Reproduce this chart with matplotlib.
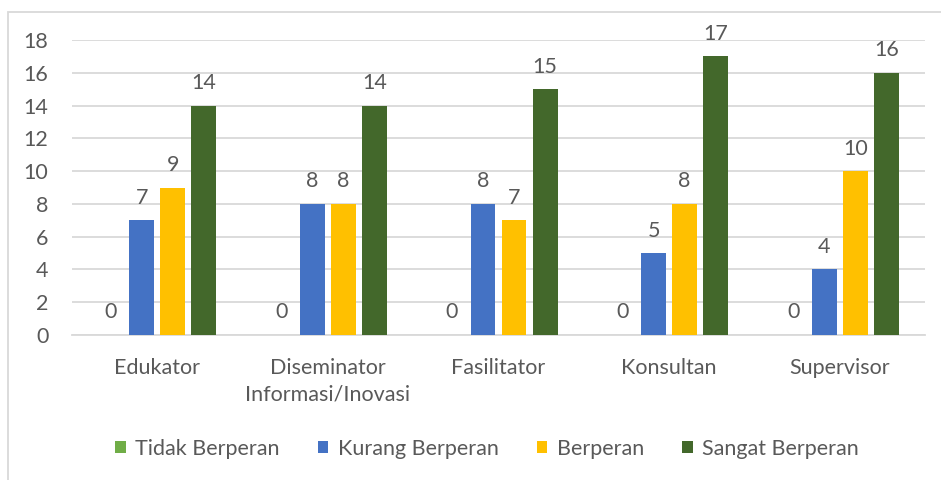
import matplotlib.pyplot as plt
import numpy as np
from matplotlib.patches import Rectangle

plt.rcParams['font.family'] = ['Lato', 'DejaVu Sans']

# data
categories = ['Edukator', 'Diseminator\nInformasi/Inovasi', 'Fasilitator', 'Konsultan', 'Supervisor']
series_names = ['Tidak Berperan', 'Kurang Berperan', 'Berperan', 'Sangat Berperan']
tidak = [0, 0, 0, 0, 0]
kurang = [7, 8, 8, 5, 4]
berperan = [9, 8, 7, 8, 10]
sangat = [14, 14, 15, 17, 16]
colors = ['#70AD47', '#4472C4', '#FFC000', '#43682B']

text_color = '#595959'
grid_color = '#D9D9D9'
fs = 15.5

fig = plt.figure(figsize=(9.41, 4.8), dpi=100)
ax = fig.add_axes([72 / 941, 1 - 335 / 480, (925 - 72) / 941, (335 - 40) / 480])

# chart border (cut off at right and bottom in the original)
fig.patches.append(Rectangle((7.5 / 941, -0.1), 1.0, 1.1 - 11.5 / 480, transform=fig.transFigure,
                             fill=False, edgecolor=grid_color, linewidth=1.3))

x = np.arange(len(categories))
width = 0.146
step = 0.182
all_series = [tidak, kurang, berperan, sangat]
for i, (vals, name, c) in enumerate(zip(all_series, series_names, colors)):
    bars = ax.bar(x + (i - 1.5) * step, vals, width, color=c, label=name, zorder=3)
    for b, v in zip(bars, vals):
        ax.annotate(str(v), (b.get_x() + b.get_width() / 2, v), xytext=(0, 9),
                    textcoords='offset points', ha='center', va='bottom',
                    fontsize=fs, color=text_color)

ax.set_xlim(-0.5, len(categories) - 0.5)
ax.set_ylim(0, 18)
ax.set_yticks(range(0, 19, 2))
ax.set_xticks(x)
ax.set_xticklabels(categories, linespacing=1.4)
ax.yaxis.grid(True, color=grid_color, linewidth=1.3, zorder=0)
ax.set_axisbelow(True)
for s in ['top', 'right', 'left']:
    ax.spines[s].set_visible(False)
ax.spines['bottom'].set_color(grid_color)
ax.spines['bottom'].set_linewidth(1.3)
ax.tick_params(axis='both', length=0, labelsize=fs, labelcolor=text_color)
ax.tick_params(axis='y', pad=17)
ax.tick_params(axis='x', pad=16.5)

leg = fig.legend(loc='center', bbox_to_anchor=(487 / 941, 1 - 449 / 480), ncol=4, frameon=False,
                 fontsize=fs, handlelength=0.5, handleheight=0.5, handletextpad=0.45,
                 columnspacing=1.75)
for t in leg.get_texts():
    t.set_color(text_color)

fig.savefig('out.png', dpi=100)
